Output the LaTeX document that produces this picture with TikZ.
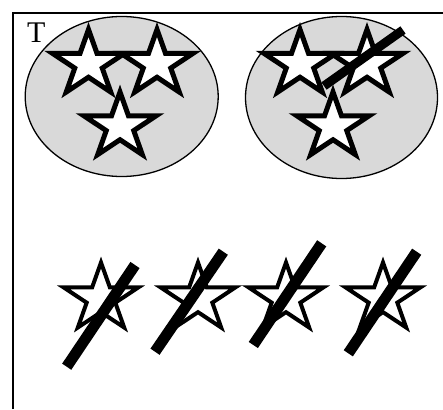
\documentclass[tikz,border=0pt]{standalone}
\usepackage{fontspec}
\setmainfont{Liberation Serif}
\tikzset{
  pics/wstar/.style={code={
    \path[pic actions] (0,-0.5) -- (0.118,-0.118) -- (0.5,-0.118) -- (0.191,0.118)
      -- (0.309,0.5) -- (0,0.264) -- (-0.309,0.5) -- (-0.191,0.118)
      -- (-0.5,-0.118) -- (-0.118,-0.118) -- cycle;
  }},
  topstar/.style={draw=black, fill=white, line width=5pt, miter limit=10, xscale=72, yscale=62.5},
  lowstar/.style={draw=black, fill=white, line width=4pt, miter limit=10, xscale=75, yscale=65},
  blob/.style={draw=black, fill=black!15, line width=1.3pt},
  frameline/.style={draw=black, line width=2pt},
  slash/.style={draw=black, line width=#1, line cap=butt},
}
\begin{document}
\begin{tikzpicture}[x=1pt,y=-1pt]
\useasboundingbox (0,0) rectangle (443,409);
% frame
\draw[frameline] (13,409) -- (13,13) -- (443,13);
% ellipses
\path[blob] (121.7,96.5) ellipse [x radius=96.5, y radius=80];
\path[blob] (341.5,97.5) ellipse [x radius=96, y radius=81];
\node[anchor=base west, inner sep=0pt, font=\fontsize{30}{30}\selectfont] (T) at (27,43) {T};
% left group
\pic[topstar] (sA) at (88.5,60.75) {wstar};
\pic[topstar] (sB) at (157,60.75) {wstar};
\pic[topstar] (sC) at (120,123.25) {wstar};
% right group
\pic[topstar] (sD) at (300,60.75) {wstar};
\pic[topstar] (sE) at (367,60.75) {wstar};
\pic[topstar] (sF) at (333,123.25) {wstar};
\coordinate (bt1) at (403,30);
\coordinate (bt2) at (324,86);
\draw[slash=9pt] (bt1) -- (bt2);
% bottom row
\pic[lowstar] (s1) at (101,295) {wstar};
\pic[lowstar] (s2) at (198,295) {wstar};
\pic[lowstar] (s3) at (286,295) {wstar};
\pic[lowstar] (s4) at (383,295) {wstar};
\coordinate (a1) at (135,265);   \coordinate (b1) at (66.7,366.7);
\coordinate (a2) at (223.3,251.7); \coordinate (b2) at (155,351.7);
\coordinate (a3) at (321.7,243.3); \coordinate (b3) at (253.3,345);
\coordinate (a4) at (416.7,251.7); \coordinate (b4) at (348.3,353.3);
\draw[slash=11pt] (a1) -- (b1);
\draw[slash=11pt] (a2) -- (b2);
\draw[slash=11pt] (a3) -- (b3);
\draw[slash=11pt] (a4) -- (b4);
\end{tikzpicture}
\end{document}
